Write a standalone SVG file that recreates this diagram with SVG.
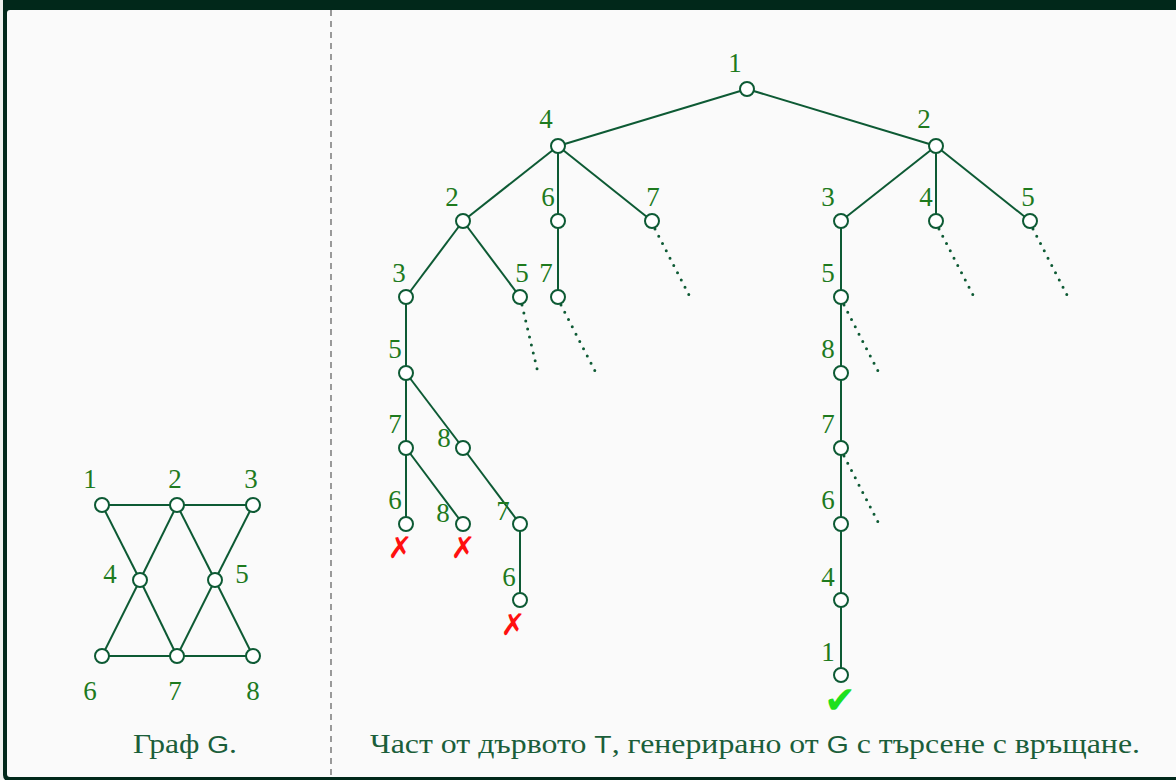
<svg xmlns="http://www.w3.org/2000/svg" width="1176" height="780" viewBox="0 0 1176 780" font-family="'Liberation Serif', serif">
<style>
.e{stroke:#0d5a34;stroke-width:2;fill:none}
.d{stroke:#0d5a34;stroke-width:3;fill:none;stroke-dasharray:0 8.2;stroke-linecap:round}
.n{fill:#fff;stroke:#0d5a34;stroke-width:2}
.l{font-family:'Liberation Serif',serif;font-size:27px;fill:#1e7a1e;text-anchor:middle}
.c{font-family:'Liberation Serif',serif;font-size:27px;fill:#1b5e3a;text-anchor:middle}
.s{font-family:'Liberation Sans',sans-serif;font-size:24px}
.x{font-family:'DejaVu Sans',sans-serif;font-size:30px;font-weight:bold;fill:#ff1010;text-anchor:middle}
.v{font-family:'DejaVu Sans',sans-serif;font-size:38px;fill:#1ee01e;text-anchor:middle}
</style>
<rect x="0" y="0" width="1176" height="780" fill="#eef1ee"/>
<rect x="3" y="-10" width="1200" height="792" rx="7" fill="#01281a"/>
<rect x="7" y="10" width="1200" height="767" rx="3" fill="#fafafa"/>
<line x1="331" y1="10" x2="331" y2="780" stroke="#5a5a5a" stroke-width="1.2" stroke-dasharray="6 5"/>

<g id="connectors">
<line class="e" x1="102" y1="505" x2="253" y2="505"/>
<line class="e" x1="102" y1="656" x2="253" y2="656"/>
<line class="e" x1="102" y1="505" x2="140" y2="580"/>
<line class="e" x1="177" y1="505" x2="140" y2="580"/>
<line class="e" x1="177" y1="505" x2="215" y2="580"/>
<line class="e" x1="253" y1="505" x2="215" y2="580"/>
<line class="e" x1="140" y1="580" x2="102" y2="656"/>
<line class="e" x1="140" y1="580" x2="177" y2="656"/>
<line class="e" x1="215" y1="580" x2="177" y2="656"/>
<line class="e" x1="215" y1="580" x2="253" y2="656"/>
<line class="e" x1="747" y1="89" x2="558" y2="146"/>
<line class="e" x1="747" y1="89" x2="936" y2="146"/>
<line class="e" x1="558" y1="146" x2="463" y2="221"/>
<line class="e" x1="558" y1="146" x2="558" y2="221"/>
<line class="e" x1="558" y1="146" x2="652" y2="221"/>
<line class="e" x1="936" y1="146" x2="841" y2="221"/>
<line class="e" x1="936" y1="146" x2="936" y2="221"/>
<line class="e" x1="936" y1="146" x2="1030" y2="221"/>
<line class="e" x1="463" y1="221" x2="406" y2="297"/>
<line class="e" x1="463" y1="221" x2="520" y2="297"/>
<line class="e" x1="558" y1="221" x2="558" y2="297"/>
<line class="e" x1="406" y1="297" x2="406" y2="373"/>
<line class="e" x1="406" y1="373" x2="406" y2="448"/>
<line class="e" x1="406" y1="373" x2="463" y2="448"/>
<line class="e" x1="406" y1="448" x2="406" y2="524"/>
<line class="e" x1="406" y1="448" x2="463" y2="524"/>
<line class="e" x1="463" y1="448" x2="520" y2="524"/>
<line class="e" x1="520" y1="524" x2="520" y2="600"/>
<line class="e" x1="841" y1="221" x2="841" y2="675"/>
<line class="d" x1="655" y1="229" x2="690" y2="297"/>
<line class="d" x1="522" y1="305" x2="538" y2="373"/>
<line class="d" x1="561" y1="305" x2="596" y2="373"/>
<line class="d" x1="939" y1="229" x2="974" y2="297"/>
<line class="d" x1="1033" y1="229" x2="1068" y2="297"/>
<line class="d" x1="844" y1="305" x2="879" y2="373"/>
<line class="d" x1="844" y1="456" x2="879" y2="524"/>
</g>

<g id="graphG">
<g id="g1"><circle class="n" cx="102" cy="505" r="7"/><text class="l" x="90" y="488">1</text></g>
<g id="g2"><circle class="n" cx="177" cy="505" r="7"/><text class="l" x="175" y="488">2</text></g>
<g id="g3"><circle class="n" cx="253" cy="505" r="7"/><text class="l" x="251" y="488">3</text></g>
<g id="g4"><circle class="n" cx="140" cy="580" r="7"/><text class="l" x="110" y="583">4</text></g>
<g id="g5"><circle class="n" cx="215" cy="580" r="7"/><text class="l" x="242" y="583">5</text></g>
<g id="g6"><circle class="n" cx="102" cy="656" r="7"/><text class="l" x="90" y="700">6</text></g>
<g id="g7"><circle class="n" cx="177" cy="656" r="7"/><text class="l" x="175" y="700">7</text></g>
<g id="g8"><circle class="n" cx="253" cy="656" r="7"/><text class="l" x="253" y="700">8</text></g>
<text class="c" x="185" y="753" textLength="104" lengthAdjust="spacingAndGlyphs">Граф <tspan class="s">G</tspan>.</text>
</g>

<g id="tree">
<g id="t1"><circle class="n" cx="747" cy="89" r="7"/><text class="l" x="735" y="72">1</text></g>
<g id="t4"><circle class="n" cx="558" cy="146" r="7"/><text class="l" x="546" y="128">4</text></g>
<g id="t2r"><circle class="n" cx="936" cy="146" r="7"/><text class="l" x="924" y="128">2</text></g>
<g id="t2l"><circle class="n" cx="463" cy="221" r="7"/><text class="l" x="452" y="206">2</text></g>
<g id="t6"><circle class="n" cx="558" cy="221" r="7"/><text class="l" x="548" y="206">6</text></g>
<g id="t7a"><circle class="n" cx="652" cy="221" r="7"/><text class="l" x="653" y="206">7</text></g>
<g id="t3r"><circle class="n" cx="841" cy="221" r="7"/><text class="l" x="828" y="206">3</text></g>
<g id="t4r"><circle class="n" cx="936" cy="221" r="7"/><text class="l" x="926" y="206">4</text></g>
<g id="t5r"><circle class="n" cx="1030" cy="221" r="7"/><text class="l" x="1028" y="206">5</text></g>
<g id="t3l"><circle class="n" cx="406" cy="297" r="7"/><text class="l" x="399" y="282">3</text></g>
<g id="t5a"><circle class="n" cx="520" cy="297" r="7"/><text class="l" x="522" y="282">5</text></g>
<g id="t7b"><circle class="n" cx="558" cy="297" r="7"/><text class="l" x="546" y="282">7</text></g>
<g id="t5l"><circle class="n" cx="406" cy="373" r="7"/><text class="l" x="395" y="358">5</text></g>
<g id="t7l"><circle class="n" cx="406" cy="448" r="7"/><text class="l" x="395" y="433">7</text></g>
<g id="t8l"><circle class="n" cx="463" cy="448" r="7"/><text class="l" x="444" y="447">8</text></g>
<g id="t6l"><circle class="n" cx="406" cy="524" r="7"/><text class="l" x="395" y="509">6</text><text class="x" x="400" y="558">✗</text></g>
<g id="t8m"><circle class="n" cx="463" cy="524" r="7"/><text class="l" x="443" y="522">8</text><text class="x" x="463" y="558">✗</text></g>
<g id="t7m"><circle class="n" cx="520" cy="524" r="7"/><text class="l" x="503" y="520">7</text></g>
<g id="t6m"><circle class="n" cx="520" cy="600" r="7"/><text class="l" x="509" y="586">6</text><text class="x" x="513" y="635">✗</text></g>
<g id="t5b"><circle class="n" cx="841" cy="297" r="7"/><text class="l" x="828" y="282">5</text></g>
<g id="t8b"><circle class="n" cx="841" cy="373" r="7"/><text class="l" x="828" y="358">8</text></g>
<g id="t7c"><circle class="n" cx="841" cy="448" r="7"/><text class="l" x="828" y="433">7</text></g>
<g id="t6c"><circle class="n" cx="841" cy="524" r="7"/><text class="l" x="828" y="509">6</text></g>
<g id="t4c"><circle class="n" cx="841" cy="600" r="7"/><text class="l" x="828" y="586">4</text></g>
<g id="t1c"><circle class="n" cx="841" cy="675" r="7"/><text class="l" x="828" y="661">1</text><text class="v" x="840" y="713">✔</text></g>
<text class="c" x="755" y="753" textLength="770" lengthAdjust="spacingAndGlyphs">Част от дървото <tspan class="s">T</tspan>, генерирано от <tspan class="s">G</tspan> с търсене с връщане.</text>
</g>
</svg>
